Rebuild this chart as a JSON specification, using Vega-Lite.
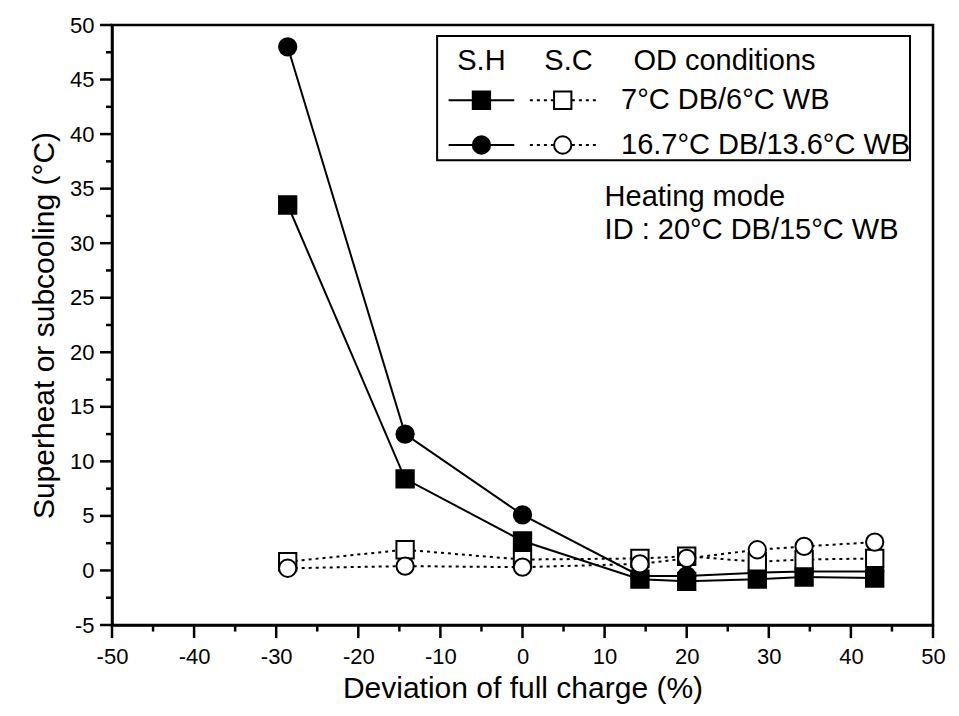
{
  "$schema": "https://vega.github.io/schema/vega-lite/v6.json",
  "autosize": {"type": "none"},
  "width": 821,
  "height": 600,
  "padding": {"left": 112, "top": 25, "right": 26, "bottom": 91},
  "background": "white",
  "config": {
    "font": "Liberation Sans",
    "view": {"stroke": "black", "strokeWidth": 2.5},
    "axis": {
      "domainColor": "black", "domainWidth": 2.5, "ticks": false,
      "labelColor": "black", "titleColor": "black", "labelFontSize": 22, "titleFontSize": 30,
      "titleFontWeight": "normal", "grid": false, "labelFont": "Liberation Sans", "titleFont": "Liberation Sans"
    }
  },
  "datasets": {
    "main": [
      {"dev": -28.6, "val": 33.5, "cond": "7°C DB/6°C WB", "kind": "S.H"},
      {"dev": -14.3, "val": 8.4, "cond": "7°C DB/6°C WB", "kind": "S.H"},
      {"dev": 0, "val": 2.7, "cond": "7°C DB/6°C WB", "kind": "S.H"},
      {"dev": 14.3, "val": -0.8, "cond": "7°C DB/6°C WB", "kind": "S.H"},
      {"dev": 20, "val": -1.0, "cond": "7°C DB/6°C WB", "kind": "S.H"},
      {"dev": 28.6, "val": -0.8, "cond": "7°C DB/6°C WB", "kind": "S.H"},
      {"dev": 34.3, "val": -0.6, "cond": "7°C DB/6°C WB", "kind": "S.H"},
      {"dev": 42.9, "val": -0.7, "cond": "7°C DB/6°C WB", "kind": "S.H"},
      {"dev": -28.6, "val": 48.0, "cond": "16.7°C DB/13.6°C WB", "kind": "S.H"},
      {"dev": -14.3, "val": 12.5, "cond": "16.7°C DB/13.6°C WB", "kind": "S.H"},
      {"dev": 0, "val": 5.1, "cond": "16.7°C DB/13.6°C WB", "kind": "S.H"},
      {"dev": 14.3, "val": -0.5, "cond": "16.7°C DB/13.6°C WB", "kind": "S.H"},
      {"dev": 20, "val": -0.5, "cond": "16.7°C DB/13.6°C WB", "kind": "S.H"},
      {"dev": 28.6, "val": -0.2, "cond": "16.7°C DB/13.6°C WB", "kind": "S.H"},
      {"dev": 34.3, "val": -0.1, "cond": "16.7°C DB/13.6°C WB", "kind": "S.H"},
      {"dev": 42.9, "val": -0.1, "cond": "16.7°C DB/13.6°C WB", "kind": "S.H"},
      {"dev": -28.6, "val": 0.8, "cond": "7°C DB/6°C WB", "kind": "S.C"},
      {"dev": -14.3, "val": 1.9, "cond": "7°C DB/6°C WB", "kind": "S.C"},
      {"dev": 0, "val": 1.0, "cond": "7°C DB/6°C WB", "kind": "S.C"},
      {"dev": 14.3, "val": 1.1, "cond": "7°C DB/6°C WB", "kind": "S.C"},
      {"dev": 20, "val": 1.3, "cond": "7°C DB/6°C WB", "kind": "S.C"},
      {"dev": 28.6, "val": 0.8, "cond": "7°C DB/6°C WB", "kind": "S.C"},
      {"dev": 34.3, "val": 1.0, "cond": "7°C DB/6°C WB", "kind": "S.C"},
      {"dev": 42.9, "val": 1.1, "cond": "7°C DB/6°C WB", "kind": "S.C"},
      {"dev": -28.6, "val": 0.2, "cond": "16.7°C DB/13.6°C WB", "kind": "S.C"},
      {"dev": -14.3, "val": 0.4, "cond": "16.7°C DB/13.6°C WB", "kind": "S.C"},
      {"dev": 0, "val": 0.3, "cond": "16.7°C DB/13.6°C WB", "kind": "S.C"},
      {"dev": 14.3, "val": 0.6, "cond": "16.7°C DB/13.6°C WB", "kind": "S.C"},
      {"dev": 20, "val": 1.1, "cond": "16.7°C DB/13.6°C WB", "kind": "S.C"},
      {"dev": 28.6, "val": 1.9, "cond": "16.7°C DB/13.6°C WB", "kind": "S.C"},
      {"dev": 34.3, "val": 2.2, "cond": "16.7°C DB/13.6°C WB", "kind": "S.C"},
      {"dev": 42.9, "val": 2.6, "cond": "16.7°C DB/13.6°C WB", "kind": "S.C"}
    ],
    "legendBox": [{"x1": -10.4, "x2": 47.2, "y1": 37.6, "y2": 49.0}],
    "legendLines": [
      {"x1": -9.0, "x2": -1.0, "ly": 43.1, "kind": "S.H"},
      {"x1": -9.0, "x2": -1.0, "ly": 39.0, "kind": "S.H"},
      {"x1": 0.9, "x2": 9.1, "ly": 43.1, "kind": "S.C"},
      {"x1": 0.9, "x2": 9.1, "ly": 39.0, "kind": "S.C"}
    ],
    "legendMarks": [
      {"lx": -5.0, "ly": 43.1, "cond": "7°C DB/6°C WB", "kind": "S.H"},
      {"lx": -5.0, "ly": 39.0, "cond": "16.7°C DB/13.6°C WB", "kind": "S.H"},
      {"lx": 4.9, "ly": 43.1, "cond": "7°C DB/6°C WB", "kind": "S.C"},
      {"lx": 4.9, "ly": 39.0, "cond": "16.7°C DB/13.6°C WB", "kind": "S.C"}
    ],
    "legendHead": [
      {"tx": -5.0, "ty": 46.7, "label": "S.H"},
      {"tx": 5.6, "ty": 46.7, "label": "S.C"},
      {"tx": 24.6, "ty": 46.7, "label": "OD conditions"}
    ],
    "texts": [
      {"tx": 12.0, "ty": 43.1, "label": "7°C DB/6°C WB"},
      {"tx": 12.0, "ty": 39.0, "label": "16.7°C DB/13.6°C WB"},
      {"tx": 10.0, "ty": 34.2, "label": "Heating mode"},
      {"tx": 10.0, "ty": 31.2, "label": "ID : 20°C DB/15°C WB"}
    ],
    "xMajor": [{"v": -50}, {"v": -40}, {"v": -30}, {"v": -20}, {"v": -10}, {"v": 0}, {"v": 10}, {"v": 20}, {"v": 30}, {"v": 40}, {"v": 50}],
    "xMinor": [{"v": -45}, {"v": -35}, {"v": -25}, {"v": -15}, {"v": -5}, {"v": 5}, {"v": 15}, {"v": 25}, {"v": 35}, {"v": 45}],
    "yMajor": [{"v": -5}, {"v": 0}, {"v": 5}, {"v": 10}, {"v": 15}, {"v": 20}, {"v": 25}, {"v": 30}, {"v": 35}, {"v": 40}, {"v": 45}, {"v": 50}],
    "yMinor": [{"v": -2.5}, {"v": 2.5}, {"v": 7.5}, {"v": 12.5}, {"v": 17.5}, {"v": 22.5}, {"v": 27.5}, {"v": 32.5}, {"v": 37.5}, {"v": 42.5}, {"v": 47.5}]
  },
  "layer": [
    {
      "data": {"name": "main"},
      "transform": [{"filter": "datum.kind === 'S.H'"}],
      "mark": {"type": "line", "color": "black", "strokeWidth": 2},
      "encoding": {
        "x": {"field": "dev", "type": "quantitative", "scale": {"domain": [-50, 50], "nice": false},
          "axis": {"title": "Deviation of full charge (%)",
            "values": [-50,-40,-30,-20,-10,0,10,20,30,40,50],
            "labelExpr": "'' + datum.value",
            "labelPadding": 21, "titlePadding": 6, "labelFlush": false, "labelOverlap": false}},
        "y": {"field": "val", "type": "quantitative", "scale": {"domain": [-5, 50], "nice": false},
          "axis": {"title": "Superheat or subcooling (°C)",
            "values": [-5,0,5,10,15,20,25,30,35,40,45,50],
            "labelExpr": "'' + datum.value",
            "labelPadding": 18, "titlePadding": 10, "labelFlush": false, "labelOverlap": false}},
        "detail": {"field": "cond"}
      }
    },
    {
      "data": {"name": "main"},
      "transform": [{"filter": "datum.kind === 'S.C'"}],
      "mark": {"type": "line", "color": "black", "strokeWidth": 2, "strokeDash": [3, 4]},
      "encoding": {
        "x": {"field": "dev", "type": "quantitative"},
        "y": {"field": "val", "type": "quantitative"},
        "detail": {"field": "cond"}
      }
    },
    {
      "data": {"name": "main"},
      "mark": {"type": "point", "stroke": "black", "strokeWidth": 2, "size": 300, "opacity": 1},
      "encoding": {
        "x": {"field": "dev", "type": "quantitative"},
        "y": {"field": "val", "type": "quantitative"},
        "shape": {"field": "cond", "type": "nominal", "scale": {"domain": ["7°C DB/6°C WB", "16.7°C DB/13.6°C WB"], "range": ["square", "circle"]}, "legend": null},
        "fill": {"field": "kind", "type": "nominal", "scale": {"domain": ["S.H", "S.C"], "range": ["black", "white"]}, "legend": null},
        "order": {"field": "kind", "sort": "descending"}
      }
    },
    {
      "data": {"name": "legendBox"},
      "mark": {"type": "rect", "fill": "white", "stroke": "black", "strokeWidth": 2},
      "encoding": {
        "x": {"field": "x1", "type": "quantitative"},
        "x2": {"field": "x2"},
        "y": {"field": "y1", "type": "quantitative"},
        "y2": {"field": "y2"}
      }
    },
    {
      "data": {"name": "legendLines"},
      "mark": {"type": "rule", "color": "black", "strokeWidth": 2},
      "encoding": {
        "x": {"field": "x1", "type": "quantitative"},
        "x2": {"field": "x2"},
        "y": {"field": "ly", "type": "quantitative"},
        "strokeDash": {"field": "kind", "type": "nominal", "scale": {"domain": ["S.H", "S.C"], "range": [[1, 0], [3, 4]]}, "legend": null}
      }
    },
    {
      "data": {"name": "legendMarks"},
      "mark": {"type": "point", "stroke": "black", "strokeWidth": 2, "size": 300, "opacity": 1},
      "encoding": {
        "x": {"field": "lx", "type": "quantitative"},
        "y": {"field": "ly", "type": "quantitative"},
        "shape": {"field": "cond", "type": "nominal", "legend": null},
        "fill": {"field": "kind", "type": "nominal", "legend": null}
      }
    },
    {
      "data": {"name": "legendHead"},
      "mark": {"type": "text", "fontSize": 29, "align": "center", "baseline": "middle", "color": "black"},
      "encoding": {
        "x": {"field": "tx", "type": "quantitative"},
        "y": {"field": "ty", "type": "quantitative"},
        "text": {"field": "label"}
      }
    },
    {
      "data": {"name": "texts"},
      "mark": {"type": "text", "fontSize": 29, "align": "left", "baseline": "middle", "color": "black"},
      "encoding": {
        "x": {"field": "tx", "type": "quantitative"},
        "y": {"field": "ty", "type": "quantitative"},
        "text": {"field": "label"}
      }
    },
    {
      "data": {"name": "xMajor"},
      "mark": {"type": "rule", "color": "black", "strokeWidth": 2.5},
      "encoding": {
        "x": {"field": "v", "type": "quantitative"},
        "y": {"datum": -5, "type": "quantitative"},
        "y2": {"datum": -6.2}
      }
    },
    {
      "data": {"name": "xMinor"},
      "mark": {"type": "rule", "color": "black", "strokeWidth": 2.5},
      "encoding": {
        "x": {"field": "v", "type": "quantitative"},
        "y": {"datum": -5, "type": "quantitative"},
        "y2": {"datum": -5.6}
      }
    },
    {
      "data": {"name": "yMajor"},
      "mark": {"type": "rule", "color": "black", "strokeWidth": 2.5},
      "encoding": {
        "y": {"field": "v", "type": "quantitative"},
        "x": {"datum": -50, "type": "quantitative"},
        "x2": {"datum": -51.46}
      }
    },
    {
      "data": {"name": "yMinor"},
      "mark": {"type": "rule", "color": "black", "strokeWidth": 2.5},
      "encoding": {
        "y": {"field": "v", "type": "quantitative"},
        "x": {"datum": -50, "type": "quantitative"},
        "x2": {"datum": -50.73}
      }
    }
  ]
}
